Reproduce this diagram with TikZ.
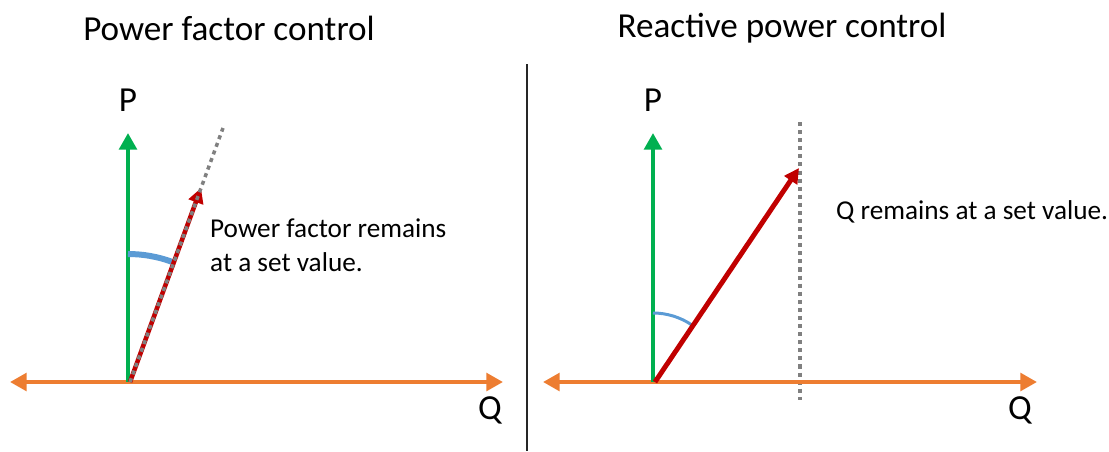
\documentclass[tikz,border=0pt]{standalone}
\usepackage{fontspec}
\setmainfont{Carlito}
\usepackage{xcolor}
\usetikzlibrary{arrows.meta, positioning}

\definecolor{pgreen}{HTML}{00B050}
\definecolor{qorange}{HTML}{ED7D31}
\definecolor{sred}{HTML}{C00000}
\definecolor{angblue}{HTML}{5B9BD5}
\definecolor{setgray}{HTML}{808080}

\tikzset{
	paxis/.style={draw=pgreen, line width=2.3pt, -{Triangle[length=9.5pt, width=10pt]}},
	qaxis/.style={draw=qorange, line width=2.3pt, {Triangle[length=9.5pt, width=10pt]}-{Triangle[length=9.5pt, width=10pt]}},
	svec/.style={draw=sred, line width=2.6pt, -{Triangle[length=8.5pt, width=8.5pt]}},
	setline/.style={draw=setgray, line width=2pt, dash pattern=on 2.3pt off 2.3pt},
	axlabel/.style={font=\fontsize{20}{24}\selectfont},
	note/.style={font=\fontsize{15.5}{19.5}\selectfont, align=left, anchor=west},
}

\begin{document}
\begin{tikzpicture}[x=0.02cm, y=0.02cm]
	\useasboundingbox (0, 0) rectangle (1109, -451);
	% Titles and divider:
	\node[axlabel] (T1) at (229, -28){Power factor control};
	\node[axlabel] (T2) at (782, -28){Reactive power control};
	\coordinate (D1) at (527, -64);
	\coordinate (D2) at (527, -451);
	\draw[line width=0.8pt, black!85] (D1) -- (D2);

	% Power factor control:
	\coordinate (O1) at (128, -382);
	\coordinate (S1) at (130, -382);
	\coordinate (PT1) at (128, -133);
	\coordinate (QL1) at (10, -382);
	\coordinate (QR1) at (503, -382);
	\coordinate (ST1) at (201, -188);
	\coordinate (SE1) at (223, -128);
	\coordinate (A1) at (128, -254);
	\draw[qaxis] (QL1) -- (QR1);
	\draw[paxis] (O1) -- (PT1);
	\draw[angblue, line width=3.4pt] (A1) arc[start angle=90, end angle=70, radius=128];
	\draw[svec] (S1) -- (ST1);
	\draw[setline] (S1) -- (SE1);
	\node[axlabel] (P1) at (128, -100){P};
	\node[axlabel] (Q1) at (490, -410){Q};
	\node[note] (N1) at (204, -245){Power factor remains\\at a set value.};

	% Reactive power control:
	\coordinate (O2) at (653, -382);
	\coordinate (S2) at (655, -382);
	\coordinate (PT2) at (653, -133);
	\coordinate (QL2) at (543, -382);
	\coordinate (QR2) at (1037, -382);
	\coordinate (ST2) at (799, -168);
	\coordinate (ET2) at (800, -122);
	\coordinate (EB2) at (800, -400);
	\coordinate (A2) at (653, -313);
	\draw[setline] (ET2) -- (EB2);
	\draw[qaxis] (QL2) -- (QR2);
	\draw[paxis] (O2) -- (PT2);
	\draw[angblue, line width=1.7pt] (A2) arc[start angle=90, end angle=56, radius=69];
	\draw[svec, line width=2.8pt] (S2) -- (ST2);
	\node[axlabel] (P2) at (653, -100){P};
	\node[axlabel] (Q2) at (1020, -410){Q};
	\node[note] (N2) at (830, -212){Q remains at a set value.};
\end{tikzpicture}
\end{document}
